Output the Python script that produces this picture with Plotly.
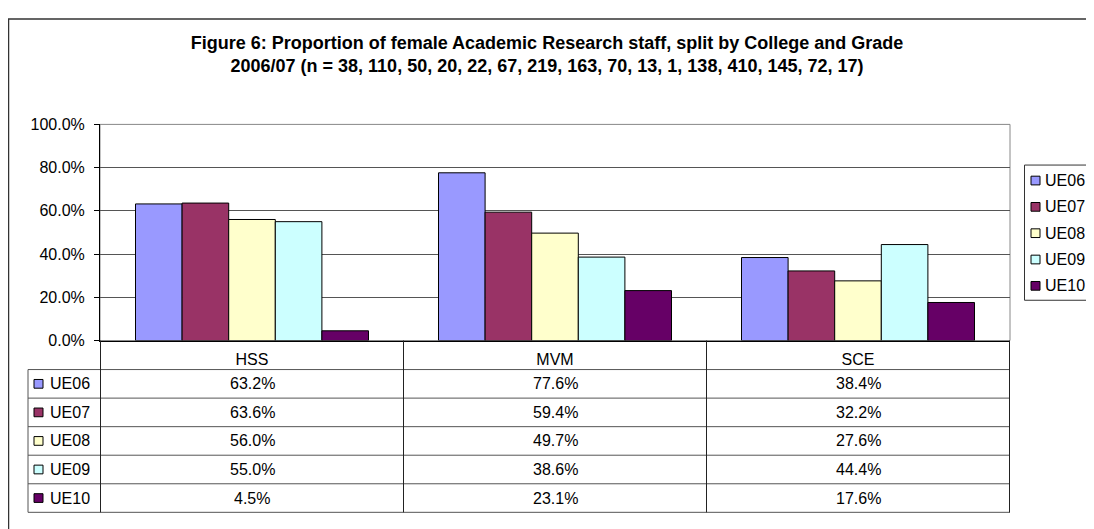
import plotly.graph_objects as go

W, H = 1094, 529

colleges = ["HSS", "MVM", "SCE"]
grades = ["UE06", "UE07", "UE08", "UE09", "UE10"]
ue06 = [63.2, 77.6, 38.4]
ue07 = [63.6, 59.4, 32.2]
ue08 = [56.0, 49.7, 27.6]
ue09 = [55.0, 38.6, 44.4]
ue10 = [4.5, 23.1, 17.6]
series = [ue06, ue07, ue08, ue09, ue10]
colors = ["#9999FF", "#993366", "#FFFFCC", "#CCFFFF", "#660066"]

title = ("Figure 6: Proportion of female Academic Research staff, split by College and Grade<br>"
         "2006/07 (n = 38, 110, 50, 20, 22, 67, 219, 163, 70, 13, 1, 138, 410, 145, 72, 17)")

FONT = "Liberation Sans, Arial, sans-serif"
GRID = "#555555"
OFF = 8  # page body margin around the plot div


def px(x):
    # page pixel -> paper fraction
    return (x - OFF) / W


def py(y):
    return 1 - (y - OFF) / H


# plot area / table geometry (page pixels)
PL, PR, PT, PB = 100, 1010, 120, 343.3
TL = 28
HDR = 373.3
ROW_H = 29.5
TB = HDR + ROW_H * len(grades)

fig = go.Figure()
for name, vals, col in zip(grades, series, colors):
    fig.add_trace(go.Bar(
        x=colleges, y=vals, name=name,
        marker=dict(color=col, line=dict(color="#000000", width=1)),
        showlegend=False,
    ))

shapes = []
annotations = []

# outer chart border (left + top visible)
shapes.append(dict(type="rect", xref="paper", yref="paper",
                   x0=px(8.5), x1=px(W + 40), y0=py(H + 40), y1=py(11),
                   line=dict(color="#333333", width=1.5)))

# plot area frame
shapes.append(dict(type="rect", xref="paper", yref="paper",
                   x0=px(PL), x1=px(PR), y0=py(PB), y1=py(PT),
                   line=dict(color="#888888", width=1), layer="below"))

# data table horizontal lines
for k in range(len(grades) + 1):
    y = HDR + ROW_H * k
    shapes.append(dict(type="line", xref="paper", yref="paper",
                       x0=px(TL), x1=px(PR), y0=py(y), y1=py(y),
                       line=dict(color=GRID, width=1)))
# table vertical lines
shapes.append(dict(type="line", xref="paper", yref="paper",
                   x0=px(TL), x1=px(TL), y0=py(HDR), y1=py(TB),
                   line=dict(color=GRID, width=1)))
for b in [-0.5, 0.5, 1.5, 2.5]:
    shapes.append(dict(type="line", xref="x", yref="paper",
                       x0=b, x1=b, y0=py(PB), y1=py(TB),
                       line=dict(color="#222222", width=1)))

# table cells
for k, (name, vals, col) in enumerate(zip(grades, series, colors)):
    yc = HDR + ROW_H * (k + 0.5)
    shapes.append(dict(type="rect", xref="paper", yref="paper",
                       x0=px(34), x1=px(43), y0=py(yc + 4.5), y1=py(yc - 4.5),
                       fillcolor=col, line=dict(color="#000000", width=1)))
    annotations.append(dict(text=name, xref="paper", yref="paper",
                            x=px(48), y=py(yc), xanchor="left", yanchor="middle",
                            showarrow=False, font=dict(size=16, color="#000000")))
    for c, v in zip(colleges, vals):
        annotations.append(dict(text=f"{v:.1f}%", xref="x", yref="paper",
                                x=c, y=py(yc), xanchor="center", yanchor="middle",
                                showarrow=False, font=dict(size=16, color="#000000")))

# legend box
LG_L, LG_T, LG_B = 1024.5, 162, 301.7
shapes.append(dict(type="rect", xref="paper", yref="paper",
                   x0=px(LG_L), x1=px(W + 40), y0=py(LG_B), y1=py(LG_T),
                   line=dict(color="#333333", width=1)))
for k, (name, col) in enumerate(zip(grades, colors)):
    yc = 178 + 27.2 * k
    shapes.append(dict(type="rect", xref="paper", yref="paper",
                       x0=px(1031), x1=px(1040), y0=py(yc + 4.5), y1=py(yc - 4.5),
                       fillcolor=col, line=dict(color="#000000", width=1)))
    annotations.append(dict(text=name, xref="paper", yref="paper",
                            x=px(1043), y=py(yc), xanchor="left", yanchor="middle",
                            showarrow=False, font=dict(size=16, color="#000000")))

fig.update_layout(
    width=W, height=H,
    margin=dict(l=0, r=0, t=0, b=0),
    paper_bgcolor="white", plot_bgcolor="white",
    font=dict(family=FONT, size=16, color="#000000"),
    title=dict(text=title, x=px(547), xanchor="center", y=py(49), yanchor="top",
               font=dict(family=FONT, size=18, color="#000000", weight="bold")),
    barmode="group", bargap=0.231, bargroupgap=0,
    shapes=shapes, annotations=annotations,
    xaxis=dict(domain=[px(PL), px(PR)], showline=True, linecolor="#000000", linewidth=1,
               ticks="", showgrid=False, tickfont=dict(size=16), ticklabelstandoff=4),
    yaxis=dict(domain=[py(PB), py(PT)], range=[0, 100], dtick=20,
               tickformat=".1f", ticksuffix="%", showline=True, linecolor="#000000",
               linewidth=1, ticks="outside", ticklen=5, tickcolor="#000000",
               showgrid=True, gridcolor=GRID, gridwidth=1, zeroline=False,
               tickfont=dict(size=16), ticklabelstandoff=6),
)

fig.write_html("out.html")
